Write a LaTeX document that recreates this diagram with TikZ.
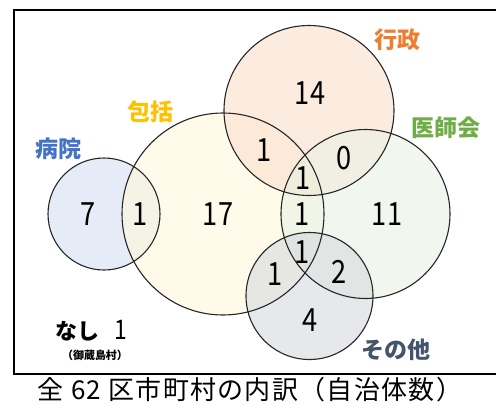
\documentclass[tikz,border=0pt]{standalone}
\usepackage{fontspec}
\setmainfont{Noto Sans CJK JP}
\newfontfamily\numfont{Noto Sans CJK JP}[FakeStretch=0.85]
\newfontfamily\capfont{Noto Sans CJK JP}[LetterSpace=5]
\definecolor{cblue}{HTML}{4472C4}
\definecolor{cgold}{HTML}{FFC000}
\definecolor{corange}{HTML}{ED7D31}
\definecolor{cgreen}{HTML}{70AD47}
\definecolor{cslate}{HTML}{44546A}
\begin{document}
\begin{tikzpicture}[x=1pt,y=-1pt,
  ring/.style={draw=black!85,line width=1.1pt},
  num/.style={font=\numfont\fontsize{32}{32}\selectfont,inner sep=0pt},
  lab/.style={font=\fontsize{23}{23}\selectfont\bfseries,inner sep=0pt}]
\useasboundingbox (0,0) rectangle (496,405);
% frame
\draw[line width=2.2pt] (500,10) -- (14,10) -- (14,374) -- (500,374);
% fills
\fill[cblue!22,fill opacity=0.6] (104,214) circle[radius=56];
\fill[cgold!14,fill opacity=0.6] (223,214) circle[radius=101];
\fill[corange!25,fill opacity=0.6] (309,110.5) circle[radius=85];
\fill[cgreen!16,fill opacity=0.6] (365.5,214) circle[radius=84.5];
\fill[cslate!22,fill opacity=0.6] (309.5,296) circle[radius=63.5];
% outlines
\node[ring,circle,minimum size=112pt,inner sep=0pt] (byoin) at (104,214) {};
\node[ring,circle,minimum size=202pt,inner sep=0pt] (hokatsu) at (223,214) {};
\node[ring,circle,minimum size=170pt,inner sep=0pt] (gyosei) at (309,110.5) {};
\node[ring,circle,minimum size=169pt,inner sep=0pt] (ishikai) at (365.5,214) {};
\node[ring,circle,minimum size=127pt,inner sep=0pt] (sonota) at (309.5,296) {};
% labels
\node[lab,text=cblue] (lbyoin) at (58,149) {病院};
\node[lab,text=cgold] (lhokatsu) at (150,112) {包括};
\node[lab,text=corange] (lgyosei) at (397,40) {行政};
\node[lab,text=cgreen] (lishikai) at (446,128) {医師会};
\node[lab,text=cslate] (lsonota) at (396,350) {その他};
% numbers
\node[num] (n7) at (88,214) {7};
\node[num] (n1a) at (140,214) {1};
\node[num] (n17) at (218,214) {17};
\node[num] (n14) at (310,93) {14};
\node[num] (n1b) at (264,150) {1};
\node[num] (n0) at (344,158) {0};
\node[num] (n1c) at (303,178) {1};
\node[num] (n1d) at (302,214) {1};
\node[num] (n11) at (387,214) {11};
\node[num] (n1e) at (302,252) {1};
\node[num] (n1f) at (275,274) {1};
\node[num] (n2) at (339,272) {2};
\node[num] (n4) at (310,320) {4};
% none
\node[lab,text=black,anchor=west,font=\fontsize{22}{22}\selectfont\bfseries] (nashi) at (55,331) {なし};
\node[num,anchor=west,font=\numfont\fontsize{27}{27}\selectfont] (n1n) at (114,330) {1};
\node[inner sep=0pt,font=\fontsize{11}{11}\selectfont\bfseries] (mikura) at (95,355) {（御蔵島村）};
% caption
\node[inner sep=0pt,font=\capfont\fontsize{26}{26}\selectfont] (cap) at (250,390) {全 62 区市町村の内訳（自治体数）};
\end{tikzpicture}
\end{document}
